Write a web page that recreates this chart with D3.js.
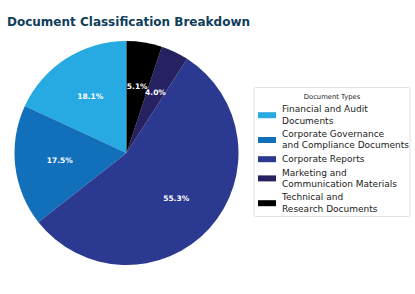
<!DOCTYPE html>
<html>
<head>
<meta charset="utf-8">
<script src="https://cdn.jsdelivr.net/npm/d3@7"></script>
<style>
  body { margin: 0; background: #fff; }
  text { font-family: "DejaVu Sans", sans-serif; }
</style>
</head>
<body>
<svg id="chart" width="415" height="294"></svg>
<script>
var categories = [
    ['Financial and Audit', 'Documents'],
    ['Corporate Governance', 'and Compliance Documents'],
    ['Corporate Reports'],
    ['Marketing and', 'Communication Materials'],
    ['Technical and', 'Research Documents']
];
var shares = [18.1, 17.5, 55.3, 4.0, 5.1];
var colors = ['#27aae1', '#1270bb', '#2b3990', '#262262', '#000000'];

var svg = d3.select('#chart');

svg.append('text')
    .attr('x', 7)
    .attr('y', 26)
    .style('font-size', '12px')
    .style('font-weight', 'bold')
    .style('fill', '#0f3d5a')
    .text('Document Classification Breakdown');

var cx = 126.5, cy = 153, radius = 112;

// counter-clockwise from 12 o'clock, like matplotlib startangle=90
var pie = d3.pie().sort(null).startAngle(0).endAngle(-2 * Math.PI);
var arcs = pie(shares);
var arc = d3.arc().innerRadius(0).outerRadius(radius);
var labelArc = d3.arc().innerRadius(radius * 0.6).outerRadius(radius * 0.6);

var g = svg.append('g').attr('transform', 'translate(' + cx + ',' + cy + ')');

g.selectAll('path.slice')
    .data(arcs)
    .enter()
    .append('path')
    .attr('class', 'slice')
    .attr('d', arc)
    .style('fill', function(d, i) { return colors[i]; });

g.selectAll('text.pct')
    .data(arcs)
    .enter()
    .append('text')
    .attr('class', 'pct')
    .attr('transform', function(d) { return 'translate(' + labelArc.centroid(d) + ')'; })
    .attr('text-anchor', 'middle')
    .attr('dy', '0.35em')
    .style('font-size', '7.5px')
    .style('font-weight', 'bold')
    .style('fill', '#fff')
    .text(function(d) { return d.data.toFixed(1) + '%'; });

// legend
var legend = svg.append('g').attr('transform', 'translate(254,87.5)');
legend.append('rect')
    .attr('width', 156)
    .attr('height', 129)
    .attr('rx', 2)
    .style('fill', '#fff')
    .style('stroke', '#d9d9d9')
    .style('stroke-width', 0.8);

legend.append('text')
    .attr('x', 78)
    .attr('y', 11)
    .attr('text-anchor', 'middle')
    .style('font-size', '6.8px')
    .style('fill', '#222')
    .text('Document Types');

var lineH = 11.2;
var y = 16.5;
categories.forEach(function(lines, i) {
    var top = y;
    var h = lines.length * lineH;
    legend.append('rect')
        .attr('x', 4)
        .attr('y', top + h / 2 - 3)
        .attr('width', 18)
        .attr('height', 6)
        .style('fill', colors[i]);
    var t = legend.append('text')
        .attr('x', 28)
        .attr('y', top + 8.4)
        .style('font-size', '9px')
        .style('fill', '#222');
    lines.forEach(function(s, j) {
        t.append('tspan').attr('x', 28).attr('dy', j === 0 ? 0 : lineH).text(s);
    });
    y += h + 2.4;
});
</script>
</body>
</html>
